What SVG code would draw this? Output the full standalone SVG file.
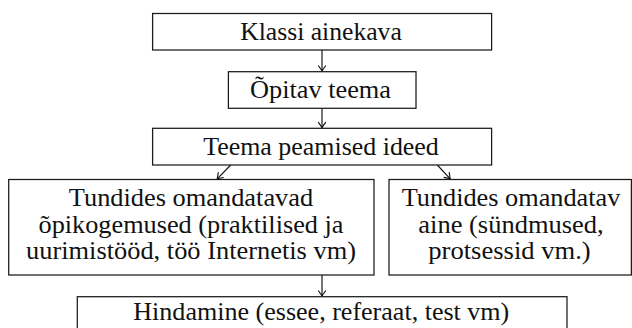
<svg xmlns="http://www.w3.org/2000/svg" width="632" height="328" viewBox="0 0 632 328">
<style>
.box{fill:#fff;stroke:#1a1a1a;stroke-width:1.25}
.t{font-family:"Liberation Serif","Times New Roman",serif;font-size:25px;fill:#111;text-anchor:middle}
.c{stroke:#111;stroke-width:1.15;fill:none}
</style>
<defs>
<marker id="ah" viewBox="-7 -5 8 10" markerWidth="8" markerHeight="10" refX="0" refY="0" orient="auto" markerUnits="userSpaceOnUse">
<path d="M-5.5,-3.8 Q-1.6,-0.9 0,0 Q-1.6,0.9 -5.5,3.8" stroke="#111" stroke-width="1.15" fill="none"/>
</marker>
</defs>
<rect width="632" height="328" fill="#fff"/>
<g id="connectors">
<line class="c" x1="322" y1="50" x2="322" y2="71" marker-end="url(#ah)"/>
<line class="c" x1="322" y1="108.3" x2="322" y2="127.7" marker-end="url(#ah)"/>
<line class="c" x1="230.7" y1="165" x2="217.2" y2="178.8" marker-end="url(#ah)"/>
<line class="c" x1="437.3" y1="165" x2="450.2" y2="178.8" marker-end="url(#ah)"/>
<line class="c" x1="322" y1="275" x2="322" y2="296" marker-end="url(#ah)"/>
</g>
<g id="n1">
<rect class="box" x="152.6" y="13.5" width="339" height="36.5"/>
<text class="t" x="321" y="40" textLength="161.7" lengthAdjust="spacingAndGlyphs">Klassi ainekava</text>
</g>
<g id="n2">
<rect class="box" x="228.4" y="71.7" width="187.6" height="36.6"/>
<text class="t" x="320.5" y="98.3" textLength="141" lengthAdjust="spacingAndGlyphs">Õpitav teema</text>
</g>
<g id="n3">
<rect class="box" x="152.6" y="128.3" width="339" height="36.7"/>
<text class="t" x="321" y="155" textLength="235.7" lengthAdjust="spacingAndGlyphs">Teema peamised ideed</text>
</g>
<g id="n4">
<rect class="box" x="8.7" y="179.5" width="365.3" height="95.5"/>
<text class="t" x="191" y="206" textLength="244.4" lengthAdjust="spacingAndGlyphs">Tundides omandatavad</text>
<text class="t" x="191" y="232.7" textLength="305" lengthAdjust="spacingAndGlyphs">õpikogemused (praktilised ja</text>
<text class="t" x="191" y="259.3" textLength="330" lengthAdjust="spacingAndGlyphs">uurimistööd, töö Internetis vm)</text>
</g>
<g id="n5">
<rect class="box" x="389" y="179.5" width="242.4" height="95.5"/>
<text class="t" x="511" y="206" textLength="218.7" lengthAdjust="spacingAndGlyphs">Tundides omandatav</text>
<text class="t" x="511" y="232.7" textLength="185.4" lengthAdjust="spacingAndGlyphs">aine (sündmused,</text>
<text class="t" x="509.5" y="259.3" textLength="162.3" lengthAdjust="spacingAndGlyphs">protsessid vm.)</text>
</g>
<g id="n6">
<rect class="box" x="77.3" y="296.7" width="489.7" height="40"/>
<text class="t" x="321.3" y="320" textLength="376" lengthAdjust="spacingAndGlyphs">Hindamine (essee, referaat, test vm)</text>
</g>
</svg>
